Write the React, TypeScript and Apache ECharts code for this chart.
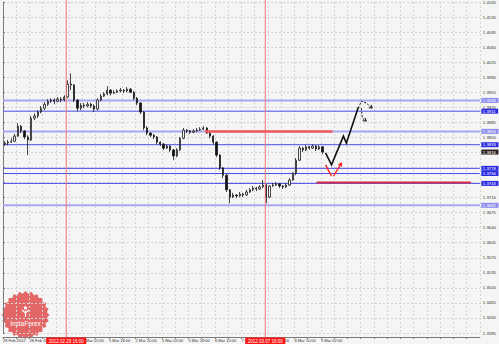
import React, { useEffect, useRef } from 'react';
import * as echarts from 'echarts';

// Time-axis tick labels (one every 16 hours, i.e. every 8 two-hour slots)
const tickLabels = [
  '28 Feb 2012', '28 Feb 18:00', '29 Feb 10:00', '1 Mar 02:00', '1 Mar 18:00',
  '2 Mar 10:00', '5 Mar 02:00', '5 Mar 18:00', '6 Mar 10:00', '7 Mar 02:00',
  '7 Mar 18:00', '8 Mar 10:00', '9 Mar 02:00',
];

// Candles (2-hour slots)
const opens = [
  1.3834, 1.3837, 1.3839, 1.3841, 1.3853, 1.3876, 1.3865, 1.3851, 1.3844, 1.3895,
  1.3900, 1.3909, 1.3918, 1.3927, 1.3934, 1.3937, 1.3934, 1.3939, 1.3937, 1.3944,
  1.3974, 1.3972, 1.3937, 1.3918, 1.3925, 1.3923, 1.3927, 1.3923, 1.3916, 1.3937,
  1.3946, 1.3951, 1.3960, 1.3953, 1.3955, 1.3958, 1.3960, 1.3958, 1.3962, 1.3955,
  1.3941, 1.3930, 1.3909, 1.3872, 1.3860, 1.3855, 1.3851, 1.3839, 1.3834, 1.3825,
  1.3830, 1.3821, 1.3807, 1.3821, 1.3848, 1.3867, 1.3865, 1.3862, 1.3865, 1.3867,
  1.3869, 1.3872, 1.3860, 1.3853, 1.3839, 1.3809, 1.3779, 1.3762, 1.3728, 1.3711,
  1.3716, 1.3714, 1.3718, 1.3716, 1.3723, 1.3728, 1.3732, 1.3730, 1.3735, 1.3739,
  1.3711, 1.3737, 1.3739, 1.3742, 1.3737, 1.3735, 1.3739, 1.3751, 1.3767, 1.3797,
  1.3825, 1.3821, 1.3828, 1.3825, 1.3830, 1.3823, 1.3828,
];
const closes = [
  1.3837, 1.3839, 1.3841, 1.3853, 1.3876, 1.3865, 1.3851, 1.3844, 1.3895, 1.3900,
  1.3909, 1.3918, 1.3927, 1.3934, 1.3937, 1.3934, 1.3939, 1.3937, 1.3944, 1.3974,
  1.3972, 1.3937, 1.3918, 1.3925, 1.3923, 1.3927, 1.3923, 1.3916, 1.3937, 1.3946,
  1.3951, 1.3960, 1.3953, 1.3955, 1.3958, 1.3960, 1.3958, 1.3962, 1.3955, 1.3941,
  1.3930, 1.3909, 1.3872, 1.3860, 1.3855, 1.3851, 1.3839, 1.3834, 1.3825, 1.3830,
  1.3821, 1.3807, 1.3821, 1.3848, 1.3867, 1.3865, 1.3862, 1.3865, 1.3867, 1.3869,
  1.3872, 1.3860, 1.3853, 1.3839, 1.3809, 1.3779, 1.3762, 1.3728, 1.3711, 1.3716,
  1.3714, 1.3718, 1.3716, 1.3723, 1.3728, 1.3732, 1.3730, 1.3735, 1.3739, 1.3711,
  1.3737, 1.3739, 1.3742, 1.3737, 1.3735, 1.3739, 1.3751, 1.3767, 1.3797, 1.3825,
  1.3821, 1.3828, 1.3825, 1.3830, 1.3823, 1.3828, 1.3816,
];
const highs = [
  1.3841, 1.3844, 1.3848, 1.3858, 1.3883, 1.3879, 1.3867, 1.3855, 1.3900, 1.3906,
  1.3913, 1.3923, 1.3932, 1.3939, 1.3941, 1.3941, 1.3944, 1.3944, 1.3948, 1.3983,
  1.3999, 1.3974, 1.3939, 1.3930, 1.3930, 1.3932, 1.3930, 1.3927, 1.3941, 1.3951,
  1.3955, 1.3969, 1.3962, 1.3960, 1.3962, 1.3965, 1.3962, 1.3967, 1.3965, 1.3958,
  1.3944, 1.3932, 1.3911, 1.3876, 1.3862, 1.3858, 1.3853, 1.3841, 1.3837, 1.3834,
  1.3832, 1.3823, 1.3825, 1.3851, 1.3872, 1.3869, 1.3867, 1.3869, 1.3872, 1.3874,
  1.3876, 1.3874, 1.3862, 1.3855, 1.3841, 1.3811, 1.3781, 1.3765, 1.3730, 1.3721,
  1.3718, 1.3723, 1.3721, 1.3728, 1.3732, 1.3737, 1.3735, 1.3739, 1.3751, 1.3742,
  1.3739, 1.3744, 1.3746, 1.3744, 1.3739, 1.3744, 1.3755, 1.3769, 1.3802, 1.3830,
  1.3828, 1.3832, 1.3830, 1.3834, 1.3832, 1.3832, 1.3830,
];
const lows = [
  1.3830, 1.3832, 1.3837, 1.3839, 1.3851, 1.3860, 1.3846, 1.3809, 1.3841, 1.3890,
  1.3895, 1.3906, 1.3913, 1.3923, 1.3930, 1.3927, 1.3932, 1.3932, 1.3934, 1.3941,
  1.3960, 1.3932, 1.3911, 1.3913, 1.3918, 1.3920, 1.3918, 1.3909, 1.3913, 1.3934,
  1.3944, 1.3948, 1.3948, 1.3951, 1.3953, 1.3955, 1.3953, 1.3955, 1.3953, 1.3937,
  1.3925, 1.3904, 1.3867, 1.3855, 1.3851, 1.3846, 1.3834, 1.3830, 1.3821, 1.3823,
  1.3816, 1.3797, 1.3804, 1.3818, 1.3846, 1.3860, 1.3858, 1.3860, 1.3862, 1.3865,
  1.3867, 1.3858, 1.3848, 1.3834, 1.3804, 1.3774, 1.3755, 1.3723, 1.3697, 1.3709,
  1.3709, 1.3711, 1.3711, 1.3714, 1.3721, 1.3725, 1.3725, 1.3728, 1.3732, 1.3697,
  1.3709, 1.3735, 1.3737, 1.3732, 1.3730, 1.3732, 1.3737, 1.3749, 1.3762, 1.3795,
  1.3816, 1.3818, 1.3821, 1.3823, 1.3818, 1.3821, 1.3811,
];

// Horizontal support / resistance levels
const levels = [1.3936, 1.3911, 1.3864, 1.3833, 1.3778, 1.3766, 1.3743, 1.3692];
const levelIsLight = [true, false, true, false, false, false, false, true];
const currentPrice = 1.3816;

// Vertical event lines (slot units) and their labels
const eventSlots = [19.1, 79.2];
const eventLabels = ['2012.02.29 16:00', '2012.03.07 16:00'];

// Drawn annotations in [slot, price]
const resistanceSegment = [[61, 1.3864], [99.5, 1.3864]];
const targetSegment = [[94.7, 1.3745], [141.3, 1.3745]];
const forecastMain = [[97.4, 1.3814], [99.2, 1.3786], [102.8, 1.3853], [103.7, 1.3837], [107.3, 1.392]];
const forecastAltUp = [[107.3, 1.3918], [108.2, 1.3934], [109.7, 1.393], [111.5, 1.3918]];
const forecastAltDown = [[108.2, 1.3918], [108.5, 1.3895], [109.7, 1.3888]];
const forecastRedA = [[97.4, 1.3786], [99.2, 1.376]];
const forecastRedB = [[99.8, 1.376], [102.2, 1.379]];

const SLOTS = 144;
const Y_MIN = 1.3395;
const Y_MAX = 1.4165;
const FONT = 'Liberation Sans, Arial, sans-serif';

export default function App() {
  const ref = useRef<HTMLDivElement>(null);

  useEffect(() => {
    if (!ref.current) return;
    const chart = echarts.init(ref.current, null, { renderer: 'svg' });

    const candleData = closes.map((c, i) => [i + 0.5, opens[i], c, lows[i], highs[i]]);

    const annotations: any[] = [
      { pts: resistanceSegment, color: '#f25a5a', width: 2.5 },
      { pts: targetSegment, color: '#d42a44', width: 2 },
      { pts: forecastMain, color: '#111111', width: 1.6 },
      { pts: forecastAltUp, color: '#111111', width: 1, dash: [2, 1.5], arrow: true },
      { pts: forecastAltDown, color: '#111111', width: 1, dash: [2, 1.5], arrow: true },
      { pts: forecastRedA, color: '#ff2020', width: 1.3 },
      { pts: forecastRedB, color: '#ff2020', width: 1.3, arrow: true },
    ];

    // level items: [price, kind] kind 0 = dark, 1 = light, 2 = current price (label only)
    const levelItems = levels.map((v, i) => [0, v, levelIsLight[i] ? 1 : 0]);
    levelItems.push([0, currentPrice, 2]);

    const eventItems = eventSlots.map((s, i) => [s, Y_MIN, i]);

    // Logo star polygon (decoration)
    const cx = 25.5, cy = 315;
    const star: number[][] = [];
    const n = 48;
    for (let i = 0; i < n; i++) {
      const r = i % 2 === 0 ? 24 : 21.5;
      const a = (i / n) * Math.PI * 2;
      star.push([cx + r * Math.cos(a), cy + r * Math.sin(a)]);
    }

    const gridLine = { color: '#d4d4d4', type: [2, 2] as any, width: 1 };

    chart.setOption({
      animation: false,
      backgroundColor: '#f5f5f5',
      textStyle: { fontFamily: FONT },
      grid: { left: -1.4, right: 18, top: 1.7, bottom: 11 },
      xAxis: {
        type: 'value',
        min: 0,
        max: SLOTS,
        interval: 4,
        offset: 4,
        axisLine: { show: true, lineStyle: { color: '#7a7a7a' } },
        axisTick: { show: true, length: 2, lineStyle: { color: '#7a7a7a' } },
        axisLabel: {
          fontSize: 4,
          color: '#333333',
          margin: 1.5,
          align: 'left',
          showMaxLabel: false,
          formatter: (v: number) => {
            const k = Math.round(v);
            if (k % 8 !== 0) return '';
            const idx = k / 8;
            return idx < tickLabels.length ? tickLabels[idx] : '';
          },
        },
        splitLine: { show: true, lineStyle: gridLine },
      },
      yAxis: {
        type: 'value',
        position: 'right',
        min: Y_MIN,
        max: Y_MAX,
        interval: 0.0035,
        axisLine: { show: true, lineStyle: { color: '#7a7a7a' } },
        axisTick: { show: true, length: 2, lineStyle: { color: '#7a7a7a' } },
        axisLabel: {
          fontSize: 4.3,
          color: '#333333',
          margin: 3,
          formatter: (v: number) => v.toFixed(4),
        },
        splitLine: { show: true, lineStyle: gridLine },
      },
      series: [
        {
          // horizontal levels with price badges on the right axis
          type: 'custom',
          z: 1,
          silent: true,
          data: levelItems,
          encode: { x: 0, y: 1 },
          renderItem: (params: any, api: any) => {
            const v = api.value(1);
            const kind = api.value(2);
            const a = api.coord([0, v]);
            const b = api.coord([SLOTS, v]);
            const children: any[] = [];
            if (kind !== 2) {
              children.push({
                type: 'line',
                shape: { x1: a[0], y1: a[1], x2: b[0], y2: b[1] },
                style: { stroke: kind === 1 ? '#a8a8f4' : '#4c4ce8', lineWidth: kind === 1 ? 2 : 1 },
              });
            }
            children.push({
              type: 'text',
              x: b[0] + 1.5,
              y: b[1],
              style: {
                text: v.toFixed(4),
                fill: '#ffffff',
                fontSize: 4.3,
                fontFamily: FONT,
                align: 'left',
                verticalAlign: 'middle',
                backgroundColor: kind === 2 ? '#2e2020' : kind === 1 ? '#8c8cf2' : '#2a2ae0',
                padding: [0.6, 2.5, 0.4, 1.5],
              },
            });
            return { type: 'group', children };
          },
        },
        {
          type: 'candlestick',
          z: 2,
          data: candleData,
          barWidth: 1.8,
          itemStyle: {
            color: '#f5f5f5',
            color0: '#151515',
            borderColor: '#1a1a1a',
            borderColor0: '#1a1a1a',
            borderWidth: 0.8,
          },
        },
        {
          // vertical event lines with red date badges
          type: 'custom',
          z: 4,
          silent: true,
          data: eventItems,
          encode: { x: 0, y: 1 },
          renderItem: (params: any, api: any) => {
            const s = api.value(0);
            const idx = api.value(2);
            const bottom = api.coord([s, Y_MIN]);
            const top = api.coord([s, Y_MAX]);
            return {
              type: 'group',
              children: [
                {
                  type: 'line',
                  shape: { x1: bottom[0], y1: bottom[1] + 4, x2: top[0], y2: 0 },
                  style: { stroke: '#f27474', lineWidth: 1 },
                },
                {
                  type: 'text',
                  x: bottom[0],
                  y: bottom[1] + 4.5,
                  z2: 10,
                  style: {
                    text: eventLabels[idx],
                    fill: '#ffffff',
                    fontSize: 4.5,
                    fontFamily: FONT,
                    align: 'center',
                    verticalAlign: 'top',
                    backgroundColor: '#ff1414',
                    padding: [1, 2.5, 1, 2.5],
                  },
                },
              ],
            };
          },
        },
        {
          type: 'custom',
          z: 5,
          silent: true,
          data: annotations.map((a, i) => [a.pts[0][0], a.pts[0][1], i]),
          encode: { x: 0, y: 1 },
          renderItem: (params: any, api: any) => {
            const a = annotations[params.dataIndex];
            const pts = a.pts.map((p: number[]) => api.coord(p));
            const children: any[] = [
              {
                type: 'polyline',
                shape: { points: pts },
                style: { stroke: a.color, lineWidth: a.width, fill: 'none', lineDash: a.dash || null },
              },
            ];
            if (a.arrow) {
              const p1 = pts[pts.length - 2];
              const p2 = pts[pts.length - 1];
              const ang = Math.atan2(p2[1] - p1[1], p2[0] - p1[0]);
              const L = 3.5;
              const h1 = [p2[0] - L * Math.cos(ang - 0.55), p2[1] - L * Math.sin(ang - 0.55)];
              const h2 = [p2[0] - L * Math.cos(ang + 0.55), p2[1] - L * Math.sin(ang + 0.55)];
              children.push({
                type: 'polyline',
                shape: { points: [h1, p2, h2] },
                style: { stroke: a.color, lineWidth: a.width, fill: 'none' },
              });
            }
            return { type: 'group', children };
          },
        },
      ],
      graphic: [
        {
          type: 'group',
          silent: true,
          z: 20,
          children: [
            {
              type: 'polygon',
              shape: { points: star },
              style: { fill: '#e25858', opacity: 0.9 },
            },
            {
              type: 'circle',
              shape: { cx: cx, cy: cy - 7, r: 1.6 },
              style: { fill: '#ffffff' },
            },
            {
              type: 'polyline',
              shape: { points: [[cx - 3.5, cy - 5], [cx, cy - 2], [cx + 3.5, cy - 5]] },
              style: { stroke: '#ffffff', lineWidth: 1.1, fill: 'none' },
            },
            {
              type: 'line',
              shape: { x1: cx, y1: cy - 4.5, x2: cx, y2: cy + 2 },
              style: { stroke: '#ffffff', lineWidth: 1.1 },
            },
            {
              type: 'text',
              x: cx,
              y: cy + 8,
              style: {
                text: 'InstaForex',
                fill: '#ffffff',
                fontSize: 6.5,
                fontFamily: FONT,
                align: 'center',
                verticalAlign: 'middle',
              },
            },
          ],
        },
      ],
    });

    return () => chart.dispose();
  }, []);

  return (
    <div
      ref={ref}
      style={{ position: 'fixed', left: 0, top: 0, width: 499, height: 344, background: '#f5f5f5' }}
    />
  );
}
